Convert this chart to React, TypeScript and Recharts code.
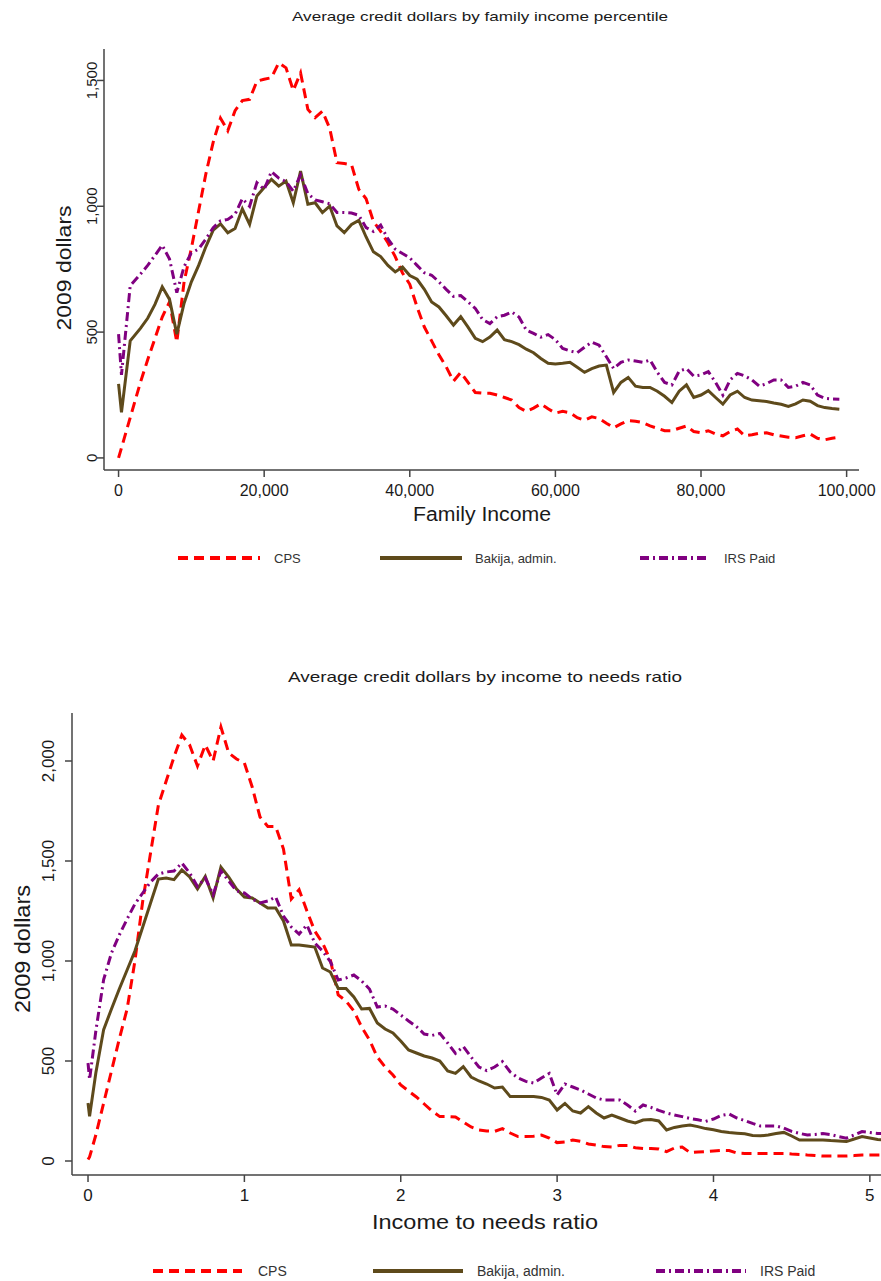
import React from 'react';
import { LineChart, Line, XAxis, YAxis } from 'recharts';

// ---- panel 1: by family income ----
const incomeX = [
  0, 400, 1600, 3000, 4000, 5000, 6000, 7000, 8000, 9000, 10000, 11000, 12000, 13000, 14000, 15000,
  16000, 17000, 18000, 19000, 20000, 21000, 22000, 23000, 24000, 25000, 26000, 27000, 28000, 29000,
  30000, 31000, 32000, 33000, 34000, 35000, 36000, 37000, 38000, 39000, 40000, 41000, 42000, 43000,
  44000, 45000, 46000, 47000, 48000, 49000, 50000, 51000, 52000, 53000, 54000, 55000, 56000, 57000,
  58000, 59000, 60000, 61000, 62000, 63000, 64000, 65000, 66000, 67000, 68000, 69000, 70000, 71000,
  72000, 73000, 74000, 75000, 76000, 77000, 78000, 79000, 80000, 81000, 82000, 83000, 84000, 85000,
  86000, 87000, 88000, 89000, 90000, 91000, 92000, 93000, 94000, 95000, 96000, 97000, 98000, 99000,
];

const cpsIncome = [
  0, 40, 160, 300, 390, 475, 560, 620, 460, 700, 833, 982, 1130, 1255, 1350, 1300, 1380, 1420, 1425,
  1497, 1505, 1511, 1570, 1550, 1460, 1530, 1385, 1352, 1378, 1310, 1173, 1170, 1165, 1067, 1030, 940,
  900, 855, 800, 735, 690, 600, 520, 465, 410, 362, 305, 340, 300, 260, 257, 257, 250, 240, 230, 200,
  185, 198, 215, 195, 178, 185, 180, 160, 150, 163, 157, 138, 120, 135, 148, 146, 140, 127, 118, 108,
  108, 118, 127, 105, 100, 108, 95, 88, 105, 115, 88, 92, 98, 100, 92, 87, 82, 80, 88, 95, 78, 72, 78, 82,
];

const bakijaIncome = [
  294, 181, 465, 515, 555, 610, 680, 630, 492, 615, 700, 765, 840, 905, 930, 895, 912, 990, 928, 1041,
  1075, 1107, 1080, 1100, 1014, 1140, 1008, 1014, 975, 1001, 922, 895, 928, 944, 878, 819, 800, 765,
  739, 759, 725, 710, 670, 620, 600, 565, 528, 561, 520, 475, 462, 480, 508, 470, 462, 450, 432, 418,
  395, 376, 373, 376, 380, 360, 340, 355, 365, 369, 260, 300, 320, 285, 280, 280, 265, 245, 220, 265,
  290, 240, 250, 267, 240, 214, 250, 265, 240, 230, 227, 224, 218, 213, 205, 215, 230, 225, 208, 200,
  196, 193,
];

const irsIncome = [
  492, 330, 684, 730, 765, 805, 845, 790, 657, 760, 815, 830, 870, 915, 942, 948, 968, 1030, 1000, 1094,
  1067, 1138, 1112, 1098, 1060, 1125, 1050, 1025, 1018, 1010, 975, 975, 973, 964, 915, 900, 925, 870,
  830, 812, 795, 765, 736, 726, 700, 670, 642, 645, 620, 594, 550, 534, 561, 567, 580, 560, 508, 495,
  480, 490, 470, 435, 425, 418, 440, 460, 448, 402, 355, 380, 389, 385, 380, 389, 340, 300, 290, 345,
  355, 325, 330, 343, 300, 250, 310, 336, 326, 310, 285, 295, 310, 310, 280, 285, 300, 290, 250, 237,
  234, 233,
];

const incomeTicks = [0, 20000, 40000, 60000, 80000, 100000];
const incomeYTicks = [0, 500, 1000, 1500];

// ---- panel 2: by income to needs ratio ----
const needsX = [
  0, 0.01, 0.05, 0.1, 0.15, 0.2, 0.25, 0.3, 0.35, 0.4, 0.45, 0.5, 0.55, 0.6, 0.65, 0.7, 0.75, 0.8,
  0.85, 0.9, 0.95, 1.0, 1.05, 1.1, 1.15, 1.2, 1.25, 1.3, 1.35, 1.4, 1.45, 1.5, 1.55, 1.6, 1.65, 1.7,
  1.75, 1.8, 1.85, 1.9, 1.95, 2.0, 2.05, 2.1, 2.15, 2.2, 2.25, 2.3, 2.35, 2.4, 2.45, 2.5, 2.55, 2.6,
  2.65, 2.7, 2.75, 2.8, 2.85, 2.9, 2.95, 3.0, 3.05, 3.1, 3.15, 3.2, 3.25, 3.3, 3.35, 3.4, 3.45, 3.5,
  3.55, 3.6, 3.65, 3.7, 3.75, 3.8, 3.85, 3.9, 3.95, 4.0, 4.05, 4.1, 4.15, 4.2, 4.25, 4.3, 4.35, 4.4,
  4.45, 4.5, 4.55, 4.6, 4.65, 4.7, 4.75, 4.8, 4.85, 4.9, 4.95, 5.0, 5.05, 5.1,
];

const cpsNeeds = [
  7, 20,
  130, 290, 450, 610, 760, 1000, 1300, 1540, 1780, 1900, 2020, 2130, 2080, 1975, 2080, 2000, 2170, 2040, 2010, 1990,
  1870, 1720, 1673, 1673, 1560, 1310, 1357, 1250, 1150, 1090, 1005, 830, 800, 750, 670, 605, 520, 470, 430, 380,
  350, 320, 285, 250, 222, 222, 220, 195, 170, 155, 150, 148, 162, 140, 122, 122, 124, 130, 115, 92,
  95, 105, 98, 85, 80, 72, 70, 78, 78, 66, 63, 63, 60, 47, 65, 70, 42, 45, 47, 50,
  53, 52, 40, 38, 38, 38, 38, 38, 38, 35, 33, 30, 28, 25, 25, 25, 25, 27, 30, 30,
  30, 30,
];

const bakijaNeeds = [
  290, 223,
  440, 657, 760, 860, 955, 1050, 1170, 1290, 1410, 1415, 1407, 1455, 1420, 1360, 1423, 1315, 1470, 1420, 1360, 1320,
  1315, 1290, 1265, 1265, 1200, 1080, 1080, 1075, 1070, 965, 945, 863, 863, 820, 760, 763, 690, 660, 640, 600,
  555, 540, 525, 515, 500, 450, 438, 472, 420, 400, 385, 365, 370, 322, 322, 322, 322, 318, 305, 255,
  288, 250, 240, 272, 240, 215, 230, 215, 200, 190, 205, 207, 200, 155, 168, 175, 180, 172, 162, 156,
  148, 142, 139, 136, 128, 126, 130, 137, 143, 125, 105, 105, 105, 105, 102, 100, 97, 110, 122, 115,
  108, 105,
];

const irsNeeds = [
  490, 407,
  650, 907, 1040, 1130, 1210, 1285, 1340, 1395, 1435, 1445, 1450, 1490, 1440, 1373, 1415, 1332, 1450, 1400, 1350, 1340,
  1310, 1290, 1300, 1320, 1225, 1170, 1135, 1180, 1090, 1050, 997, 905, 915, 930, 900, 860, 770, 775, 760, 730,
  700, 672, 635, 628, 638, 590, 538, 572, 520, 470, 452, 470, 497, 445, 415, 398, 390, 415, 438, 330,
  385, 370, 355, 335, 315, 305, 305, 305, 280, 250, 280, 268, 253, 240, 230, 222, 213, 206, 198, 210,
  228, 235, 215, 202, 188, 175, 175, 175, 165, 148, 138, 130, 133, 137, 132, 122, 114, 130, 147, 142,
  138, 136,
];

const needsTicks = [0, 1, 2, 3, 4, 5];
const needsYTicks = [0, 500, 1000, 1500, 2000];

const SERIES = [
  { key: 'cps', name: 'CPS', color: '#ff0000', dash: '10 6' },
  { key: 'bakija', name: 'Bakija, admin.', color: '#5e4a1b', dash: undefined },
  { key: 'irs', name: 'IRS Paid', color: '#800080', dash: '9 4 2 4' },
];

const FONT = '"Liberation Sans", Arial, sans-serif';
const AXIS = '#444';
const TEXT = '#1a1a1a';

const incomeRows = incomeX.map((x, i) => ({
  x,
  cps: cpsIncome[i],
  bakija: bakijaIncome[i],
  irs: irsIncome[i],
}));

const needsRows = needsX.map((x, i) => ({
  x,
  cps: cpsNeeds[i],
  bakija: bakijaNeeds[i],
  irs: irsNeeds[i],
}));

const fmt = (v: number) => v.toLocaleString('en-US');

// y tick labels are printed sideways, reading upward
function SideTick(props: any) {
  const { x, y, payload, fontSize } = props;
  return (
    <text
      x={x}
      y={y}
      transform={`rotate(-90 ${x} ${y})`}
      textAnchor="middle"
      fontSize={fontSize}
      fontFamily={FONT}
      fill={TEXT}
    >
      {fmt(payload.value)}
    </text>
  );
}

interface PanelProps {
  rows: any[];
  width: number;
  height: number;
  top: number;
  right: number;
  yAxisWidth: number;
  xAxisHeight: number;
  xDomain: [number, number];
  yDomain: [number, number];
  xTicks: number[];
  yTicks: number[];
  xFont: number;
  xTickMargin: number;
  yFont: number;
  yTickMargin: number;
}

function Panel(p: PanelProps) {
  return (
    <LineChart
      width={p.width}
      height={p.height}
      data={p.rows}
      margin={{ top: p.top, right: p.right, bottom: 0, left: 0 }}
    >
      <XAxis
        dataKey="x"
        type="number"
        domain={p.xDomain}
        ticks={p.xTicks}
        interval={0}
        allowDataOverflow
        height={p.xAxisHeight}
        tickSize={7}
        tickMargin={p.xTickMargin}
        axisLine={{ stroke: AXIS, strokeWidth: 1.5 }}
        tickLine={{ stroke: AXIS, strokeWidth: 1.5 }}
        tick={{ fontSize: p.xFont, fill: TEXT, fontFamily: FONT }}
        tickFormatter={fmt}
      />
      <YAxis
        type="number"
        domain={p.yDomain}
        ticks={p.yTicks}
        interval={0}
        allowDataOverflow
        width={p.yAxisWidth}
        tickSize={7}
        tickMargin={p.yTickMargin}
        axisLine={{ stroke: AXIS, strokeWidth: 1.5 }}
        tickLine={{ stroke: AXIS, strokeWidth: 1.5 }}
        tick={(tp: any) => <SideTick {...tp} fontSize={p.yFont} />}
      />
      {SERIES.map((s) => (
        <Line
          key={s.key}
          type="linear"
          dataKey={s.key}
          name={s.name}
          stroke={s.color}
          strokeWidth={3}
          strokeDasharray={s.dash}
          dot={false}
          activeDot={false}
          isAnimationActive={false}
        />
      ))}
    </LineChart>
  );
}

function LegendRow({ y, fontSize, spots }: { y: number; fontSize: number; spots: number[][] }) {
  return (
    <g>
      {SERIES.map((s, i) => {
        const [x1, x2, tx] = spots[i];
        return (
          <g key={s.key}>
            <line x1={x1} x2={x2} y1={y} y2={y} stroke={s.color} strokeWidth={4} strokeDasharray={s.dash} />
            <text x={tx} y={y + fontSize * 0.36} fontSize={fontSize} fontFamily={FONT} fill="#333">
              {s.name}
            </text>
          </g>
        );
      })}
    </g>
  );
}

export default function App() {
  return (
    <div
      style={{
        position: 'absolute',
        left: 0,
        top: 0,
        width: 881,
        height: 1281,
        overflow: 'hidden',
        background: '#fff',
      }}
    >
      <div style={{ position: 'absolute', left: 0, top: 0 }}>
        <Panel
          rows={incomeRows}
          width={881}
          height={600}
          top={49}
          right={22}
          yAxisWidth={104}
          xAxisHeight={130}
          xDomain={[-2000, 101700]}
          yDomain={[-48, 1625]}
          xTicks={incomeTicks}
          yTicks={incomeYTicks}
          xFont={16}
          xTickMargin={8}
          yFont={15}
          yTickMargin={0}
        />
      </div>
      <div style={{ position: 'absolute', left: 0, top: 600 }}>
        <Panel
          rows={needsRows}
          width={900}
          height={681}
          top={113}
          right={2}
          yAxisWidth={72}
          xAxisHeight={106}
          xDomain={[-0.1024, 5.18]}
          yDomain={[-70, 2240]}
          xTicks={needsTicks}
          yTicks={needsYTicks}
          xFont={17}
          xTickMargin={7}
          yFont={17}
          yTickMargin={11}
        />
      </div>
      <svg
        width={881}
        height={1281}
        style={{ position: 'absolute', left: 0, top: 0, pointerEvents: 'none' }}
      >
        <g fontFamily={FONT} fill={TEXT}>
          <text x={480} y={21} textAnchor="middle" fontSize={13.5} textLength={376} lengthAdjust="spacingAndGlyphs">
            Average credit dollars by family income percentile
          </text>
          <text
            x={71}
            y={268}
            transform="rotate(-90 71 268)"
            textAnchor="middle"
            fontSize={21}
            textLength={125}
            lengthAdjust="spacingAndGlyphs"
          >
            2009 dollars
          </text>
          <text x={482} y={521} textAnchor="middle" fontSize={20} textLength={138} lengthAdjust="spacingAndGlyphs">
            Family Income
          </text>

          <text x={485} y={682} textAnchor="middle" fontSize={15} textLength={394} lengthAdjust="spacingAndGlyphs">
            Average credit dollars by income to needs ratio
          </text>
          <text
            x={30}
            y={949}
            transform="rotate(-90 30 949)"
            textAnchor="middle"
            fontSize={22}
            textLength={128}
            lengthAdjust="spacingAndGlyphs"
          >
            2009 dollars
          </text>
          <text x={485} y={1229} textAnchor="middle" fontSize={21} textLength={226} lengthAdjust="spacingAndGlyphs">
            Income to needs ratio
          </text>
        </g>
        <LegendRow
          y={558}
          fontSize={13}
          spots={[
            [178, 260, 274],
            [380, 462, 475],
            [640, 710, 724],
          ]}
        />
        <LegendRow
          y={1271}
          fontSize={14}
          spots={[
            [153, 242, 258],
            [373, 463, 477],
            [656, 746, 760],
          ]}
        />
      </svg>
    </div>
  );
}
